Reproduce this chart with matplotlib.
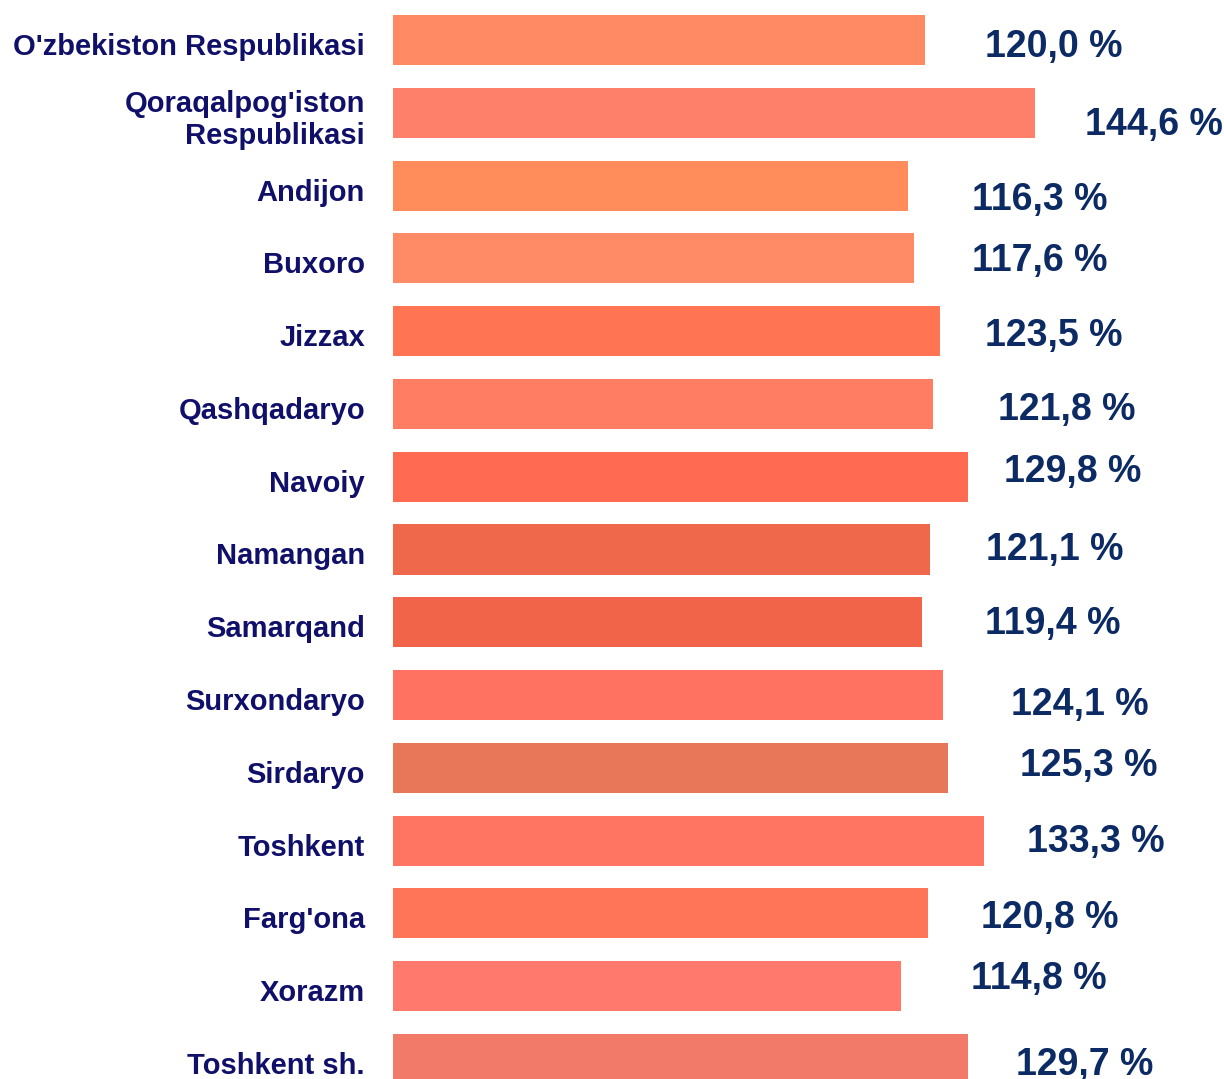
import matplotlib
matplotlib.use("Agg")
import matplotlib.pyplot as plt
import matplotlib.transforms as mtransforms

# regions and growth values (%)
regions = ["O'zbekiston Respublikasi", "Qoraqalpog'iston\nRespublikasi", "Andijon", "Buxoro",
           "Jizzax", "Qashqadaryo", "Navoiy", "Namangan", "Samarqand", "Surxondaryo",
           "Sirdaryo", "Toshkent", "Farg'ona", "Xorazm", "Toshkent sh."]
values = [120.0, 144.6, 116.3, 117.6, 123.5, 121.8, 129.8, 121.1, 119.4, 124.1,
          125.3, 133.3, 120.8, 114.8, 129.7]
bar_colors = ["#FF8A63", "#FF806A", "#FF8C5A", "#FF8A66", "#FF7554", "#FF7D62", "#FF6A52",
              "#F0684C", "#F2644A", "#FF7262", "#E8775A", "#FF7562", "#FF7557", "#FF7A6C",
              "#F27A68"]

# label nudges (pixels) from bar end, as placed in the original slide
label_dx = [60, 50, 64, 58, 45, 65, 36, 56, 63, 68, 72, 43, 53, 70, 48]
label_dy = [-7, -12, -14, -3, -5, -6, 5, -1, -2, -10, 2, -1, -5, 7, -6]

plt.rcParams['font.family'] = ['Liberation Sans', 'DejaVu Sans']

fig = plt.figure(figsize=(12.24, 10.79), dpi=100)
ax = fig.add_axes([393 / 1224, 0, 1 - 393 / 1224, 1])

pos = list(range(len(values)))
ax.barh(pos, values, height=0.687, color=bar_colors)
ax.set_xlim(1.12, 1.12 + 831 / 4.472)
ax.set_ylim(14 + 20 / 72.8, -40 / 72.8)
ax.axis('off')

for i, v in enumerate(values):
    ax.annotate(f"{v:.1f} %".replace('.', ','), xy=(v, i),
                xytext=(label_dx[i], label_dy[i]), textcoords='offset pixels',
                ha='left', va='center', fontsize=27, fontweight='bold',
                color='#0C2A64', annotation_clip=False)

trans = mtransforms.blended_transform_factory(ax.transAxes, ax.transData)
for i, name in enumerate(regions):
    ax.annotate(name, xy=(0, i), xycoords=trans, xytext=(-28, -7),
                textcoords='offset pixels', ha='right', va='center',
                multialignment='right', fontsize=21, fontweight='bold',
                color='#10106B', annotation_clip=False)

fig.savefig("out.png", dpi=100)
